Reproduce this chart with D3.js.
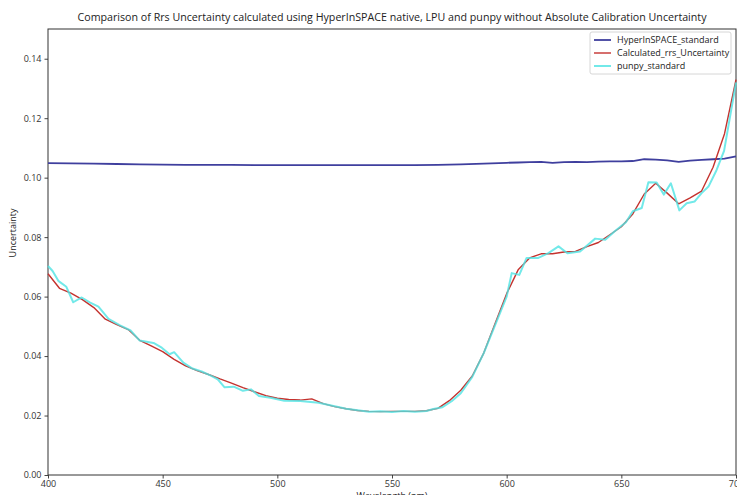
<!DOCTYPE html>
<html>
<head>
<meta charset="utf-8">
<script src="https://cdn.jsdelivr.net/npm/d3@7"></script>
<style>
  body { margin: 0; background: #fff; }
  svg { display: block; font-family: "Open Sans", sans-serif; }
</style>
</head>
<body>
<div id="chart"></div>
<script>
"use strict";

// HyperInSPACE_standard
const hyperWl = [400, 410, 420, 430, 440, 450, 460, 470, 480, 490, 500, 510, 520, 530, 540, 550, 560, 570, 575, 580, 590, 600, 605, 610, 615, 620, 625, 630, 635, 640, 645, 650, 655, 660, 665, 670, 675, 680, 685, 690, 695, 700];
const hyperVal = [0.1049, 0.1048, 0.1047, 0.1046, 0.1045, 0.1044, 0.1043, 0.1043, 0.1043, 0.1042, 0.1042, 0.1042, 0.1042, 0.1042, 0.1042, 0.1042, 0.1042, 0.1043, 0.1044, 0.1045, 0.1047, 0.1050, 0.1051, 0.1052, 0.1053, 0.1050, 0.1052, 0.1053, 0.1052, 0.1054, 0.1055, 0.1055, 0.1056, 0.1062, 0.1061, 0.1058, 0.1053, 0.1057, 0.1060, 0.1062, 0.1064, 0.1072];

// Calculated_rrs_Uncertainty
const calcWl = [400, 405, 410, 415, 420, 425, 430, 435, 440, 445, 450, 455, 460, 465, 470, 475, 480, 485, 490, 495, 500, 505, 510, 515, 520, 525, 530, 535, 540, 545, 550, 555, 560, 565, 570, 575, 580, 585, 590, 595, 600, 605, 610, 615, 620, 625, 630, 635, 640, 645, 650, 655, 660, 665, 670, 675, 680, 685, 690, 695, 700];
const calcVal = [0.0677, 0.0628, 0.0612, 0.0590, 0.0563, 0.0524, 0.0506, 0.0489, 0.0453, 0.0434, 0.0415, 0.0389, 0.0367, 0.0351, 0.0338, 0.0323, 0.0309, 0.0294, 0.0280, 0.0267, 0.0258, 0.0254, 0.0252, 0.0256, 0.0240, 0.0230, 0.0223, 0.0217, 0.0214, 0.0213, 0.0214, 0.0214, 0.0214, 0.0216, 0.0224, 0.0250, 0.0285, 0.0333, 0.0410, 0.0510, 0.0610, 0.0690, 0.0730, 0.0744, 0.0744, 0.0750, 0.0752, 0.0768, 0.0782, 0.0808, 0.0835, 0.0878, 0.0945, 0.0981, 0.0948, 0.0912, 0.0932, 0.0955, 0.1035, 0.1148, 0.1330];

// punpy_standard
const punpyWl = [400, 402, 404.5, 408, 411, 414.7, 418.4, 422, 426.4, 431.4, 436, 440, 446, 449.6, 453, 455, 459, 463, 467, 471, 474, 477, 481, 485, 488.5, 492, 497, 503, 510, 518, 525, 530, 535, 540, 545, 550, 555, 560, 565, 568, 572, 576, 580, 585, 590, 595, 600, 602.2, 605.5, 608.7, 613.8, 618.2, 622.6, 626.5, 632, 638.6, 643, 647, 652, 655, 658.9, 661.8, 665.4, 668.5, 671.6, 675.3, 678.5, 682, 685, 688, 691.5, 694.8, 700];
const punpyVal = [0.0703, 0.0686, 0.0653, 0.0633, 0.0581, 0.0597, 0.0580, 0.0566, 0.0525, 0.0503, 0.0486, 0.0452, 0.0444, 0.0428, 0.0406, 0.0413, 0.0378, 0.0358, 0.0348, 0.0334, 0.0322, 0.0295, 0.0297, 0.0283, 0.0288, 0.0266, 0.0260, 0.0250, 0.0249, 0.0243, 0.0231, 0.0223, 0.0218, 0.0213, 0.0214, 0.0212, 0.0215, 0.0213, 0.0215, 0.0222, 0.0228, 0.0248, 0.0275, 0.0330, 0.0410, 0.0505, 0.0600, 0.0679, 0.0673, 0.0730, 0.0730, 0.0746, 0.0769, 0.0746, 0.0752, 0.0795, 0.0791, 0.0819, 0.0850, 0.0887, 0.0898, 0.0985, 0.0984, 0.0943, 0.0981, 0.0890, 0.0914, 0.0920, 0.0948, 0.0970, 0.1025, 0.1090, 0.1320];

const xTicks = [400, 450, 500, 550, 600, 650, 700];
const yTicks = [0.00, 0.02, 0.04, 0.06, 0.08, 0.10, 0.12, 0.14];

const series = [
    {name: "HyperInSPACE_standard", wl: hyperWl, val: hyperVal, color: "#3f3f9e", width: 1.8, opacity: 1},
    {name: "Calculated_rrs_Uncertainty", wl: calcWl, val: calcVal, color: "#c4322e", width: 1.4, opacity: 1},
    {name: "punpy_standard", wl: punpyWl, val: punpyVal, color: "#4fe3e3", width: 2, opacity: 0.8}
];

// Margin convention
const W = 737, H = 495;
const margin = {top: 29, right: 1, bottom: 20, left: 48};
const width = W - margin.left - margin.right;
const height = H - margin.top - margin.bottom;

const svg = d3.select("#chart")
    .append("svg")
    .attr("width", W)
    .attr("height", H);

const g = svg.append("g")
    .attr("transform", `translate(${margin.left}, ${margin.top})`);

const x = d3.scaleLinear().domain([400, 700]).range([0, width]);
const y = d3.scaleLinear().domain([0, 0.15]).range([height, 0]);

// axes
const xAxis = g.append("g")
    .attr("transform", `translate(0, ${height})`)
    .call(d3.axisBottom(x).tickValues(xTicks).tickFormat(d3.format("d")).tickSize(3.5).tickPadding(2));

const yAxis = g.append("g")
    .call(d3.axisLeft(y).tickValues(yTicks).tickFormat(d3.format(".2f")).tickSize(3.5).tickPadding(3));

[xAxis, yAxis].forEach(a => {
    a.select(".domain").remove();
    a.selectAll(".tick line").attr("stroke", "#444");
    a.selectAll(".tick text").attr("fill", "#333").style("font-size", "9px").style("font-family", "'Open Sans', sans-serif");
});

// frame
g.append("rect")
    .attr("width", width)
    .attr("height", height)
    .attr("fill", "none")
    .attr("stroke", "#333")
    .attr("stroke-width", 1);

// lines
const line = d3.line()
    .x(d => x(d[0]))
    .y(d => y(d[1]));

series.forEach(s => {
    g.append("path")
        .datum(s.wl.map((w, i) => [w, s.val[i]]))
        .attr("fill", "none")
        .attr("stroke", s.color)
        .attr("stroke-width", s.width)
        .attr("stroke-opacity", s.opacity)
        .attr("stroke-linejoin", "round")
        .attr("d", line);
});

// legend
const lg = svg.append("g").attr("transform", "translate(590, 32)");
lg.append("rect")
    .attr("width", 141)
    .attr("height", 42)
    .attr("rx", 2)
    .attr("fill", "#fff")
    .attr("fill-opacity", 0.85)
    .attr("stroke", "#d6d6d6");

series.forEach((s, i) => {
    const yy = 8 + i * 13;
    lg.append("line")
        .attr("x1", 4).attr("x2", 21)
        .attr("y1", yy).attr("y2", yy)
        .attr("stroke", s.color)
        .attr("stroke-width", s.width)
        .attr("stroke-opacity", s.opacity);
    lg.append("text")
        .attr("x", 27)
        .attr("y", yy + 3.2)
        .attr("fill", "#222")
        .style("font-size", "9px")
        .text(s.name);
});

// title and labels
svg.append("text")
    .attr("x", margin.left + width / 2)
    .attr("y", 21)
    .attr("text-anchor", "middle")
    .attr("fill", "#222")
    .attr("textLength", 629)
    .attr("lengthAdjust", "spacingAndGlyphs")
    .style("font-size", "11px")
    .text("Comparison of Rrs Uncertainty calculated using HyperInSPACE native, LPU and punpy without Absolute Calibration Uncertainty");

svg.append("text")
    .attr("x", margin.left + width / 2)
    .attr("y", 499)
    .attr("text-anchor", "middle")
    .attr("fill", "#222")
    .style("font-size", "9px")
    .text("Wavelength (nm)");

svg.append("text")
    .attr("transform", "translate(16, 233) rotate(-90)")
    .attr("text-anchor", "middle")
    .attr("fill", "#222")
    .style("font-size", "9px")
    .text("Uncertainty");
</script>
</body>
</html>
